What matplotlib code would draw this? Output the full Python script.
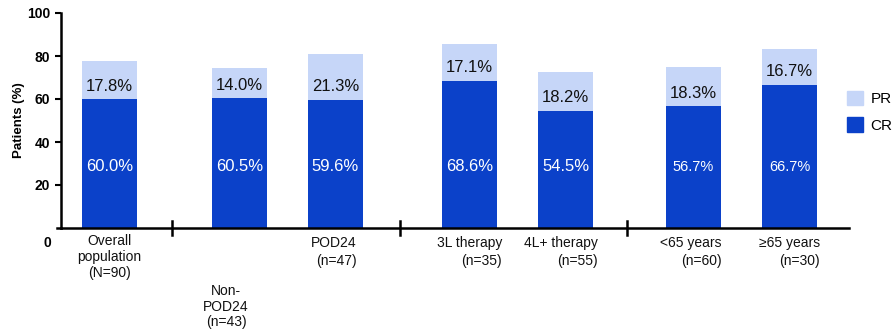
import matplotlib
matplotlib.use("Agg")
import matplotlib.pyplot as plt
from matplotlib.patches import Patch
from matplotlib.transforms import blended_transform_factory, offset_copy

plt.rcParams['font.family'] = ['Liberation Sans', 'DejaVu Sans']

# Data
categories = ["Overall\npopulation\n(N=90)", "Non-\nPOD24\n(n=43)", "POD24\n(n=47)",
              "3L therapy\n(n=35)", "4L+ therapy\n(n=55)", "<65 years\n(n=60)", "≥65 years\n(n=30)"]
cr_values = [60.0, 60.5, 59.6, 68.6, 54.5, 56.7, 66.7]
pr_values = [17.8, 14.0, 21.3, 17.1, 18.2, 18.3, 16.7]
y_ticks = [20, 40, 60, 80, 100]

# Layout
positions = [1.0, 2.354, 3.354, 4.75, 5.75, 7.083, 8.083]
separators = [1.651, 4.026, 6.39]
label_x = [1.0, 2.214, 3.578, 5.089, 6.089, 7.38, 8.401]
label_ha = ["center", "center", "right", "right", "right", "right", "right"]
label_drop = [0, 50, 2, 2, 2, 2, 2]   # extra downward offset (px)
label_spacing = [1.15, 1.1, 1.3, 1.3, 1.3, 1.3, 1.3]
cr_font = [12, 12, 12, 12, 12, 10.5, 10.5]

CR_COLOR = "#0b41c9"
PR_COLOR = "#c6d6f8"

fig = plt.figure(figsize=(8.96, 3.29), dpi=100)
ax = fig.add_axes([61 / 896, 1 - 228 / 329, (849 - 61) / 896, (228 - 13) / 329])

width = 0.573
ax.bar(positions, cr_values, width=width, color=CR_COLOR, zorder=2)
ax.bar(positions, pr_values, width=width, bottom=cr_values, color=PR_COLOR, zorder=2)

for x, cr, pr, fs in zip(positions, cr_values, pr_values, cr_font):
    ax.text(x, 28.5, f"{cr:.1f}%", ha="center", va="center", color="white", fontsize=fs)
    ax.text(x, cr + 6, f"{pr:.1f}%", ha="center", va="center", color="#111111", fontsize=12)

ax.set_xlim(0.495, 8.703)
ax.set_ylim(0, 100)
ax.set_yticks(y_ticks)
ax.set_yticklabels([str(t) for t in y_ticks], fontsize=10, fontweight="bold")
ax.tick_params(axis="y", length=4, width=1.5, pad=4)
ax.set_xticks([])
ax.set_ylabel("Patients (%)", fontsize=9.5, fontweight="bold", labelpad=1)

for side in ("top", "right"):
    ax.spines[side].set_visible(False)
ax.spines["left"].set_linewidth(1.8)
ax.spines["bottom"].set_linewidth(1.8)
ax.spines["left"].set_bounds(0, 100)

# Zero label sits below the baseline
fig.text(47 / 896, 1 - 243 / 329, "0", ha="center", va="center",
         fontsize=10, fontweight="bold")

# Short extension of baseline to the left, like a tick
ax.plot([0.495 - 0.045, 0.495], [0, 0], color="black", lw=1.8, clip_on=False)

# Group separator ticks crossing the baseline
for s in separators:
    ax.plot([s, s], [-3.3, 3.3], color="black", lw=1.8, clip_on=False, zorder=3)

# Category labels
trans = blended_transform_factory(ax.transData, ax.transAxes)
for lab, x, ha, drop, ls in zip(categories, label_x, label_ha, label_drop, label_spacing):
    t = offset_copy(trans, fig=fig, x=0, y=-drop, units="dots")
    ax.text(x, -0.03, lab, transform=t, ha=ha, va="top", multialignment=ha,
            fontsize=10, linespacing=ls, color="#111111")

handles = [Patch(color=PR_COLOR, label="PR"), Patch(color=CR_COLOR, label="CR")]
fig.legend(handles=handles, loc="upper left", bbox_to_anchor=(836 / 896, 1 - 80 / 329),
           frameon=False, fontsize=11, handlelength=1.05, handleheight=1.05,
           handletextpad=0.5, labelspacing=0.75, borderpad=0.2)

fig.savefig("out.png", dpi=100)
